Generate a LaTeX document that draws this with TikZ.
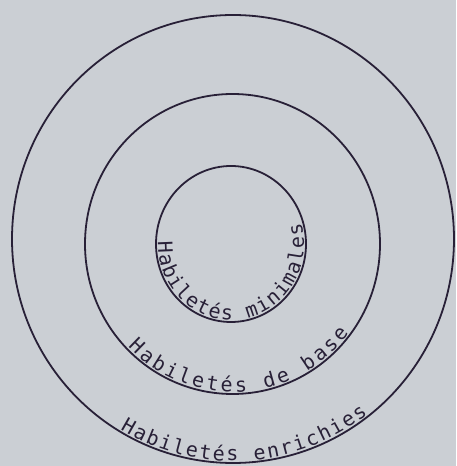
\documentclass[tikz,border=0pt]{standalone}
\usepackage{fontspec}
\newfontfamily\monofont{DejaVu Sans Mono}
\usetikzlibrary{decorations.text}
\definecolor{paper}{RGB}{203,207,212}
\definecolor{ink}{RGB}{40,32,55}
\tikzset{
  ring/.style={draw=ink, line width=1.8pt},
  ringtext/.style={decorate, decoration={text along path, text align=fit to path, text={#1}}}
}
\newcommand{\rtfont}{\color{ink}\monofont\fontsize{20}{23}\selectfont}
\begin{document}
\begin{tikzpicture}
\fill[paper] (0pt,0pt) rectangle (456pt,466pt);
\useasboundingbox (0pt,0pt) rectangle (456pt,466pt);
% circles
\draw[ring] (233pt,227pt) ellipse [x radius=221pt, y radius=224pt];
\draw[ring] (232.5pt,222pt) ellipse [x radius=147.5pt, y radius=150pt];
\draw[ring] (231pt,222pt) ellipse [x radius=75pt, y radius=78pt];
% texts
\path[ringtext={|\rtfont|Habiletés minimales}]
  (231pt,222pt) ++(178:73pt and 76pt) arc[start angle=178, end angle=376, x radius=73pt, y radius=76pt];
\path[ringtext={|\rtfont|Habiletés de base}]
  (232.5pt,222pt) ++(224:145.5pt and 148pt) arc[start angle=224, end angle=323, x radius=145.5pt, y radius=148pt];
\path[ringtext={|\rtfont|Habiletés enrichies}]
  (233pt,227pt) ++(239:219pt and 222pt) arc[start angle=239, end angle=308, x radius=219pt, y radius=222pt];
\end{tikzpicture}
\end{document}
